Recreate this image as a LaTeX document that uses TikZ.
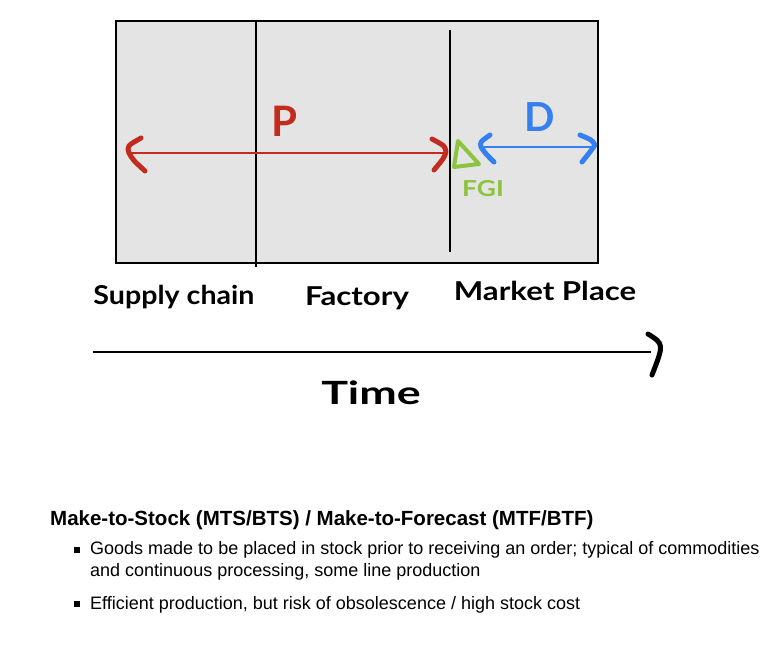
\documentclass[tikz,border=0pt]{standalone}
\usepackage{fontspec}
\setmainfont{Liberation Sans}
\newfontfamily\handfont{Lato}
\definecolor{boxgray}{HTML}{E4E4E4}
\definecolor{pred}{HTML}{C42B1F}
\definecolor{dblue}{HTML}{3580F0}
\definecolor{fgreen}{HTML}{8CC43F}
\begin{document}
\begin{tikzpicture}[x=1pt,y=-1pt,
  hand/.style={line cap=round,line join=round},
  thinline/.style={line width=2pt},
  headstroke/.style={line width=5pt,line cap=round,line join=round},
  handlbl/.style={font=\handfont\bfseries\fontsize{26}{26}\selectfont, inner sep=0},
  bulletsq/.style={fill=black, minimum size=5.5pt, inner sep=0},
  bodytxt/.style={font=\fontsize{18}{22}\selectfont, anchor=west, align=left, inner sep=0}]
\useasboundingbox (0,0) rectangle (780,669);
\fill[white] (0,0) rectangle (780,669);
% main box
\node[draw=black, line width=2pt, fill=boxgray, minimum width=482pt, minimum height=242pt, inner sep=0, anchor=north west] (box) at (115,20) {};
\coordinate (d1t) at (256,20); \coordinate (d1b) at (256,267);
\coordinate (d2t) at (450,30); \coordinate (d2b) at (450,252);
\draw[thinline] (d1t) -- (d1b);
\draw[thinline] (d2t) -- (d2b);
% red P arrow
\coordinate (pl) at (130,153); \coordinate (pr) at (445,153);
\draw[pred, thinline] (pl) -- (pr);
\draw[pred, headstroke] (141,138) .. controls (127,146) .. (129,153) .. controls (133,160) .. (145,171);
\draw[pred, headstroke] (432,139) .. controls (445,146) .. (446,152) .. controls (444,158) .. (434,170);
\node[pred, font=\handfont\bfseries\fontsize{42}{42}\selectfont, inner sep=0] (P) at (284,121) {P};
% blue D arrow
\coordinate (bl) at (484,147); \coordinate (br) at (594,147);
\draw[dblue, line width=2.5pt] (bl) -- (br);
\draw[dblue, headstroke] (490,135) .. controls (480,142) .. (481,147) .. controls (485,153) .. (494,162);
\draw[dblue, headstroke] (580,135) .. controls (592,140) .. (595,145) .. controls (590,152) .. (582,162);
\node[dblue, font=\handfont\bfseries\fontsize{40}{40}\selectfont, inner sep=0] (D) at (540,117) {D};
% green FGI
\draw[fgreen, line width=4pt, hand] (458,141) -- (454,167) -- (479,164) -- cycle;
\node[fgreen, font=\handfont\bfseries\fontsize{22}{22}\selectfont, inner sep=0] (fgi) at (483,189) {\scalebox{1.2}[1]{FGI}};
% labels
\node[handlbl] (sc) at (174,297) {\scalebox{1.1}[1]{Supply chain}};
\node[handlbl] (fa) at (357,298) {\scalebox{1.2}[1]{Factory}};
\node[handlbl] (mp) at (545,291) {\scalebox{1.2}[1]{Market Place}};
% time axis
\coordinate (ta) at (93,352); \coordinate (tb) at (651,352);
\draw[line width=2.5pt] (ta) -- (tb);
\draw[headstroke] (648,334) .. controls (664,344) .. (652,375);
\node[font=\handfont\bfseries\fontsize{32}{32}\selectfont, inner sep=0] (time) at (371,393) {\scalebox{1.4}[1]{Time}};
% text block
\node[font=\bfseries\fontsize{20.5}{22}\selectfont, anchor=west, inner sep=0] (title) at (50,520) {Make-to-Stock (MTS/BTS) / Make-to-Forecast (MTF/BTF)};
\node[bulletsq] (b1) at (77,550) {};
\node[bodytxt, anchor=north west] (t1) at (90,541) {Goods made to be placed in stock prior to receiving an order; typical of commodities\\and continuous processing, some line production};
\node[bulletsq] (b2) at (77,604) {};
\node[bodytxt] (t2) at (90,605) {Efficient production, but risk of obsolescence / high stock cost};
\end{tikzpicture}
\end{document}
